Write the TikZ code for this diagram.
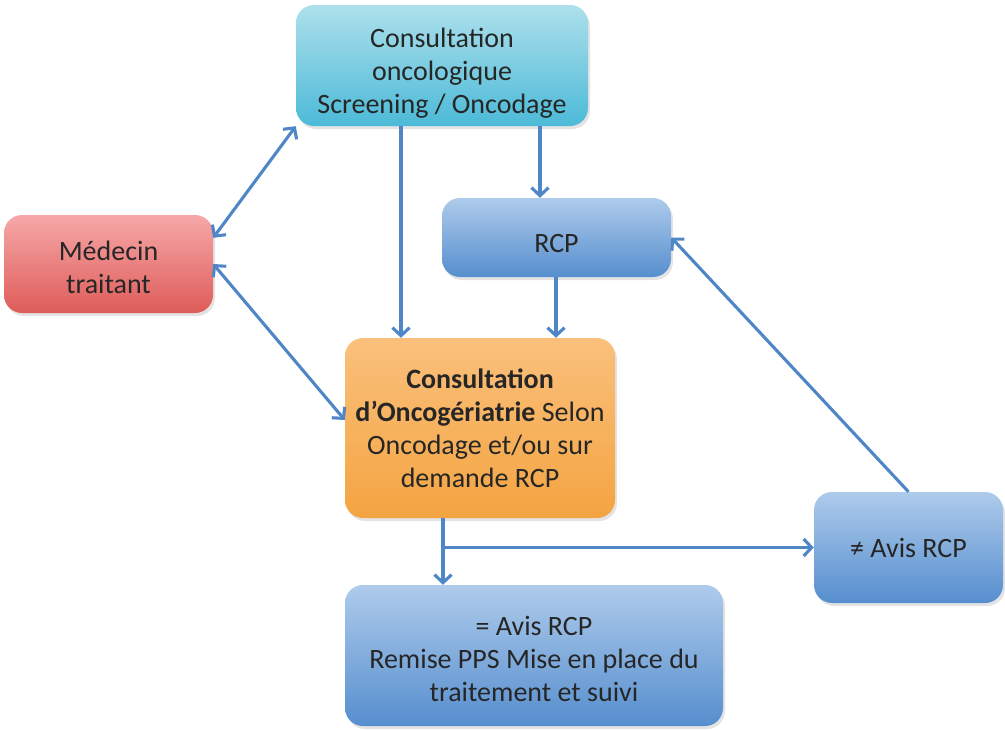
\documentclass[tikz,border=0pt]{standalone}
\usepackage{fontspec}
\setmainfont{Carlito}
\usetikzlibrary{arrows.meta,shadows,calc}
\definecolor{arrc}{HTML}{4F86C6}
\definecolor{txt}{HTML}{262626}
\definecolor{cyanT}{HTML}{ADE0EC}
\definecolor{cyanB}{HTML}{4CBAD7}
\definecolor{redT}{HTML}{F6A8A8}
\definecolor{redB}{HTML}{DE5C59}
\definecolor{blueT}{HTML}{AECBEB}
\definecolor{blueB}{HTML}{568ECE}
\definecolor{orT}{HTML}{FAC07C}
\definecolor{orB}{HTML}{F4A441}
\newcommand{\sd}[1]{\rule{0pt}{#1pt}}
\begin{document}
\begin{tikzpicture}[x=1pt,y=-1pt,
  box/.style={rounded corners=18pt, inner sep=0pt, align=center, text=txt,
    font=\fontsize{28}{33}\selectfont,
    drop shadow={opacity=0.22,shadow xshift=2pt,shadow yshift=-3pt}},
  cyanbox/.style={box, top color=cyanT, bottom color=cyanB},
  redbox/.style={box, top color=redT, bottom color=redB},
  bluebox/.style={box, top color=blueT, bottom color=blueB},
  orbox/.style={box, top color=orT, bottom color=orB},
  arr/.style={draw=arrc, line width=3.1pt, -{Straight Barb[length=8pt,width=17pt]}},
  darr/.style={draw=arrc, line width=3.1pt, {Straight Barb[length=8pt,width=17pt]}-{Straight Barb[length=8pt,width=17pt]}}]
\useasboundingbox (0,0) rectangle (1005,731);

\node[cyanbox, minimum width=292pt, minimum height=121pt] (cons) at (442,65.5)
  {\sd{34}Consultation\\oncologique\\Screening / Oncodage};
\node[redbox, minimum width=209pt, minimum height=98pt] (med) at (108.5,264)
  {\sd{26}Médecin\\traitant};
\node[bluebox, minimum width=229pt, minimum height=79pt] (rcp) at (556.5,237.5)
  {\sd{30}RCP};
\node[orbox, minimum width=270pt, minimum height=180pt] (onco) at (480,428)
  {\textbf{Consultation}\\\textbf{d’Oncogériatrie} Selon\\Oncodage et/ou sur\\demande RCP};
\node[bluebox, minimum width=189pt, minimum height=111pt] (navis) at (908.5,547.5)
  {≠ Avis RCP};
\node[bluebox, minimum width=378pt, minimum height=141pt] (avis) at (534,655.5)
  {\sd{26}= Avis RCP\\Remise PPS Mise en place du\\traitement et suivi};

\coordinate (c1) at (401,0);
\coordinate (c2) at (540,0);
\coordinate (c3) at (556,0);
\coordinate (c4) at (443,0);

\draw[darr] ($(med.north east)+(0,23)$) -- (cons.south west);
\draw[darr] (med.east) -- ($(onco.west)+(0,-8)$);
\draw[arr] (c1 |- cons.south) -- (c1 |- onco.north);
\draw[arr] (c2 |- cons.south) -- (c2 |- rcp.north);
\draw[arr] (c3 |- rcp.south) -- (c3 |- onco.north);
\draw[arr] (c4 |- onco.south) -- (c4 |- avis.north);
\draw[arr] (c4 |- navis.west) -- (navis.west);
\draw[arr] (navis.north) -- (rcp.east);
\end{tikzpicture}
\end{document}
